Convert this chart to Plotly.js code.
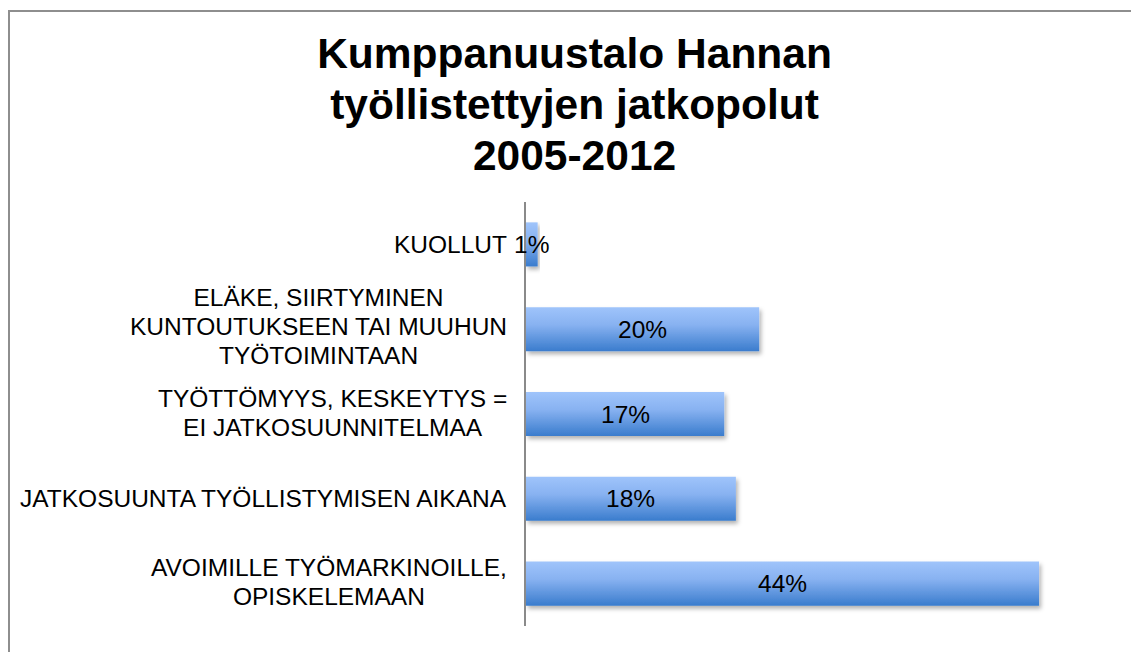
<!DOCTYPE html>
<html>
<head>
<meta charset="utf-8">
<script src="https://cdn.plot.ly/plotly-3.0.1.min.js"></script>
<style>
  html, body { margin: 0; padding: 0; background: #fff; }
  #wrap { position: relative; width: 1131px; height: 652px; overflow: hidden; }
  #chart { width: 1131px; height: 652px; }
  #frame { position: absolute; left: 8px; top: 10px; width: 1200px; height: 700px;
           border-left: 2px solid #8e8e8e; border-top: 2px solid #8e8e8e; pointer-events: none; }
</style>
</head>
<body>
<div id="wrap">
  <div id="chart"></div>
  <div id="frame"></div>
</div>
<script>
// Data (bottom to top)
const categories = [
  "AVOIMILLE TYÖMARKINOILLE, OPISKELEMAAN",
  "JATKOSUUNTA TYÖLLISTYMISEN AIKANA",
  "TYÖTTÖMYYS, KESKEYTYS = EI JATKOSUUNNITELMAA",
  "ELÄKE, SIIRTYMINEN KUNTOUTUKSEEN TAI MUUHUN TYÖTOIMINTAAN",
  "KUOLLUT"
];
const tickLabels = [
  "AVOIMILLE TYÖMARKINOILLE,<br>OPISKELEMAAN",
  "JATKOSUUNTA TYÖLLISTYMISEN AIKANA",
  "TYÖTTÖMYYS, KESKEYTYS =<br>EI JATKOSUUNNITELMAA",
  "ELÄKE, SIIRTYMINEN<br>KUNTOUTUKSEEN TAI MUUHUN<br>TYÖTOIMINTAAN",
  "KUOLLUT"
];
const values = [44, 18, 17, 20, 1];
const valueLabels = ["44%", "18%", "17%", "20%", "1%"];
const titleText = "Kumppanuustalo Hannan<br>työllistettyjen jatkopolut<br>2005-2012";

const FONT = "Arial, 'Liberation Sans', Helvetica, sans-serif";

const trace = {
  type: "bar",
  orientation: "h",
  y: categories,
  x: values,
  width: 0.52,
  marker: { color: "#6a9ee6", line: { width: 0 } },
  hoverinfo: "skip"
};

const annotations = [];
categories.forEach((c, i) => {
  annotations.push({
    xref: "paper", yref: "y", x: 0, y: c, xanchor: "right", yanchor: "middle",
    xshift: -17, text: tickLabels[i], showarrow: false, align: "center",
    font: { family: FONT, size: 24.5, color: "#000" }
  });
  annotations.push({
    xref: "x", yref: "y", x: values[i] / 2, y: c, xanchor: "center", yanchor: "middle",
    text: valueLabels[i], showarrow: false,
    font: { family: FONT, size: 24.5, color: "#000" }
  });
});

const layout = {
  width: 1131, height: 652,
  margin: { l: 526, r: 22, t: 201.5, b: 25.5 },
  paper_bgcolor: "rgba(0,0,0,0)",
  plot_bgcolor: "rgba(0,0,0,0)",
  showlegend: false,
  title: {
    text: titleText,
    x: 0.508, xref: "container", xanchor: "center",
    y: 0.895, yref: "container", yanchor: "middle",
    font: { family: FONT, size: 42.5, color: "#000", weight: "bold" }
  },
  xaxis: {
    range: [0, 50], showgrid: false, zeroline: false, showline: false,
    showticklabels: false, ticks: "", fixedrange: true
  },
  yaxis: {
    type: "category", categoryorder: "array", categoryarray: categories,
    range: [-0.5, 4.5], showgrid: false, zeroline: false,
    showline: true, linecolor: "#8a8a8a", linewidth: 2,
    showticklabels: false, ticks: "", fixedrange: true
  },
  annotations: annotations
};

function tightenLines(root, factor) {
  root.querySelectorAll("tspan.line").forEach(t => {
    const dy = t.getAttribute("dy");
    if (dy && dy.endsWith("em")) {
      const v = parseFloat(dy);
      if (v) t.setAttribute("dy", (v * factor) + "em");
    }
  });
}

Plotly.newPlot("chart", [trace], layout, { staticPlot: true, displayModeBar: false }).then(gd => {
  const svg = gd.querySelector("svg.main-svg");
  const ns = "http://www.w3.org/2000/svg";
  let defs = svg.querySelector("defs");
  if (!defs) { defs = document.createElementNS(ns, "defs"); svg.insertBefore(defs, svg.firstChild); }
  const grad = document.createElementNS(ns, "linearGradient");
  grad.setAttribute("id", "barGrad");
  grad.setAttribute("x1", "0"); grad.setAttribute("y1", "0");
  grad.setAttribute("x2", "0"); grad.setAttribute("y2", "1");
  [["0", "#9fc4fb"], ["0.4", "#88b2f1"], ["1", "#3a7ccd"]].forEach(([o, col]) => {
    const s = document.createElementNS(ns, "stop");
    s.setAttribute("offset", o); s.setAttribute("stop-color", col);
    grad.appendChild(s);
  });
  defs.appendChild(grad);
  const filt = document.createElementNS(ns, "filter");
  filt.setAttribute("id", "barShadow");
  filt.setAttribute("x", "-10%"); filt.setAttribute("y", "-20%");
  filt.setAttribute("width", "130%"); filt.setAttribute("height", "160%");
  const ds = document.createElementNS(ns, "feDropShadow");
  ds.setAttribute("dx", "2"); ds.setAttribute("dy", "3");
  ds.setAttribute("stdDeviation", "2"); ds.setAttribute("flood-color", "#000");
  ds.setAttribute("flood-opacity", "0.3");
  filt.appendChild(ds);
  defs.appendChild(filt);
  gd.querySelectorAll(".barlayer .point path").forEach(p => {
    p.style.fill = "url(#barGrad)";
    p.setAttribute("filter", "url(#barShadow)");
  });
  const sc = 1.19 / 1.3;
  gd.querySelectorAll(".gtitle, .annotation-text").forEach(el => tightenLines(el, sc));
});
</script>
</body>
</html>
